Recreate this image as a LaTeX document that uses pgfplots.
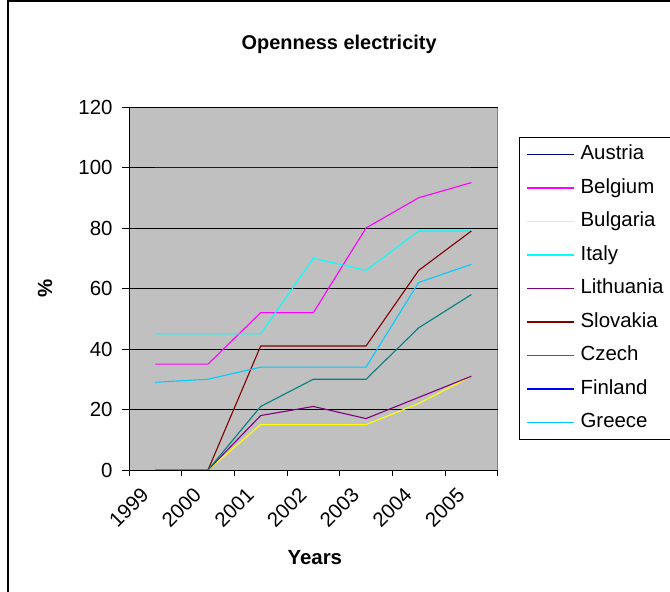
\documentclass[border=0pt]{standalone}
\usepackage{fontspec}
\setmainfont{Liberation Sans}
\usepackage{pgfplots}
\pgfplotsset{compat=1.18}
\definecolor{plotgray}{HTML}{C0C0C0}
\definecolor{cAustria}{HTML}{000080}
\definecolor{cBelgium}{HTML}{FF00FF}
\definecolor{cBulgaria}{HTML}{FFFF00}
\definecolor{cItaly}{HTML}{00FFFF}
\definecolor{cLithuania}{HTML}{800080}
\definecolor{cSlovakia}{HTML}{800000}
\definecolor{cCzech}{HTML}{008080}
\definecolor{cFinland}{HTML}{0000FF}
\definecolor{cGreece}{HTML}{00CCFF}
\begin{document}
\begin{tikzpicture}[x=1bp,y=1bp]
\path[use as bounding box] (0,0) rectangle (670,592);
\fill[white] (0,0) rectangle (670,592);
\draw[line width=1.5bp] (8,-5) -- (8,591) -- (675,591);
\begin{axis}[
  at={(129bp,122bp)}, anchor=south west,
  scale only axis, width=368.7bp, height=363bp,
  xmin=0, xmax=7, ymin=0, ymax=120,
  axis x line*=bottom, axis y line*=left,
  axis line style={black, line width=0.8bp},
  axis background/.style={fill=plotgray, draw=gray, line width=0.8bp},
  xtick={0.5,1.5,...,6.5},
  xticklabels={1999,2000,2001,2002,2003,2004,2005},
  minor xtick={0,1,...,7},
  major x tick style={draw=none},
  minor tick length=6bp,
  major tick length=7bp,
  tick align=outside,
  tick style={black, line width=0.8bp},
  ytick={0,20,...,120},
  ymajorgrids,
  major grid style={black, line width=0.6bp},
  /pgf/number format/assume math mode=true,
  ticklabel style={font=\fontsize{20.5}{21}\selectfont},
  yticklabel style={xshift=-6bp},
  xticklabel style={xshift=-8bp, yshift=-12bp, rotate=45, anchor=east},
  title={\textbf{Openness electricity}},
  title style={at={(axis description cs:0.57,1)}, anchor=center, yshift=57bp, font=\fontsize{20}{21}\selectfont},
  xlabel={\textbf{Years}},
  xlabel style={at={(axis description cs:0.504,0)}, anchor=center, yshift=-88bp, font=\fontsize{20.5}{21}\selectfont},
  ylabel={\textbf{\%}},
  ylabel style={at={(axis description cs:0,0.5)}, anchor=center, yshift=84bp, font=\fontsize{20.5}{21}\selectfont},
  every axis plot/.append style={line width=1.1bp},
  legend image code/.code={\draw[#1] (0bp,0bp) -- (47bp,0bp);},
  legend style={at={(1.058,0.917)}, anchor=north west, draw=black, line width=0.8bp,
    font=\fontsize{20.5}{21}\selectfont, inner xsep=7bp, inner ysep=8bp,
    row sep=15.5bp,
    nodes={inner sep=0pt, text height=14bp, text depth=4bp},
    /tikz/every odd column/.append style={column sep=6bp}},
  legend cell align=left,
]
\addplot[cAustria] coordinates {(0.5,100) (1.5,100) (2.5,100) (3.5,100) (4.5,100) (5.5,100) (6.5,100)};
\addlegendentry{Austria}
\addplot[cBelgium] coordinates {(0.5,35) (1.5,35) (2.5,52) (3.5,52) (4.5,80) (5.5,90) (6.5,95)};
\addlegendentry{Belgium}
\addplot[cBulgaria] coordinates {(1.5,0) (2.5,15) (3.5,15) (4.5,15) (5.5,22) (6.5,31)};
\addlegendentry{Bulgaria}
\addplot[cItaly] coordinates {(0.5,45) (1.5,45) (2.5,45) (3.5,70) (4.5,66) (5.5,79) (6.5,79)};
\addlegendentry{Italy}
\addplot[cLithuania] coordinates {(1.5,0) (2.5,18) (3.5,21) (4.5,17) (5.5,24) (6.5,31)};
\addlegendentry{Lithuania}
\addplot[cSlovakia] coordinates {(1.5,0) (2.5,41) (3.5,41) (4.5,41) (5.5,66) (6.5,79)};
\addlegendentry{Slovakia}
\addplot[cCzech] coordinates {(0.5,0) (1.5,0) (2.5,21) (3.5,30) (4.5,30) (5.5,47) (6.5,58)};
\addlegendentry{Czech}
\addplot[cFinland] coordinates {(0.5,100) (1.5,100) (2.5,100) (3.5,100) (4.5,100) (5.5,100) (6.5,100)};
\addlegendentry{Finland}
\addplot[cGreece] coordinates {(0.5,29) (1.5,30) (2.5,34) (3.5,34) (4.5,34) (5.5,62) (6.5,68)};
\addlegendentry{Greece}
\end{axis}
\end{tikzpicture}
\end{document}
